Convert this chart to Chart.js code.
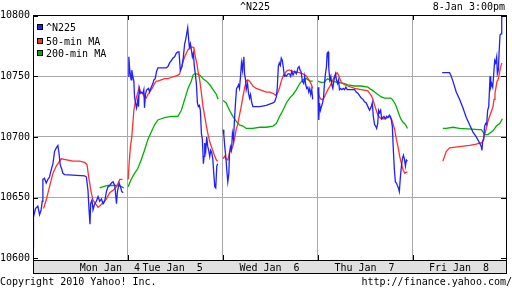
<!DOCTYPE html>
<html><head><meta charset="utf-8">
<script src="https://cdn.jsdelivr.net/npm/chart.js@4/dist/chart.umd.min.js"></script>
<style>html,body{margin:0;padding:0;background:#fff}canvas{display:block}</style>
</head><body>
<canvas id="c" width="512" height="288"></canvas>
<script>
// ---- text ----
const titleText = '^N225';
const stampText = '8-Jan 3:00pm';
const footerLeft = 'Copyright 2010 Yahoo! Inc.';
const footerRight = 'http://finance.yahoo.com/';
const seriesNames = ['^N225', '50-min MA', '200-min MA'];
const dayLabels = ['Mon Jan  4', 'Tue Jan  5', 'Wed Jan  6', 'Thu Jan  7', 'Fri Jan  8'];
const dayLabelPos = [81, 147, 249, 349, 448.5];
const dayBounds = [100, 200, 300, 400];
const yTicks = [10600, 10650, 10700, 10750, 10800];

// ---- data: time (day*100 + % of session), value ----
const nikkeiTime = [
  0, 0.5, 2.6, 5.1, 6.9, 8.6, 9.7, 10.4, 12.1, 13.9,
  15.7, 17.4, 19.2, 21.0, 22.7, 24.5, 26.2, 27.3, 28.7, 30.5,
  31.5, 33.3, 54.4, 56.2, 57.9, 59.0, 60.0, 60.7, 62.1, 63.2,
  65.0, 66.7, 68.5, 70.2, 72.0, 73.8, 75.5, 77.3, 79.0, 80.8,
  82.6, 84.3, 86.1, 87.9, 88.9, 90.7, 92.1, 93.5, 94.9,
  97,
  100.2, 100.9, 101.9, 103.3, 104.0, 105.1, 106.2, 106.9, 107.9, 109.0,
  110.4, 111.1, 111.8, 112.9, 113.9, 115.7, 116.7, 117.4, 118.5, 119.9,
  121.7, 122.7, 124.5, 126.2, 127.3, 128.7, 130.1, 131.5, 140.3, 142.1,
  143.8, 145.6, 147.4, 149.1, 150.9, 152.6, 153.7, 155.1, 156.9, 158.3,
  159.7, 160.7, 161.8, 162.9, 163.6, 164.6, 165.7, 166.7, 167.8, 168.8,
  169.9, 170.9, 172.0, 173.1, 174.1, 175.2, 176.2, 177.3, 178.3, 179.4,
  180.1, 180.8, 181.9, 182.9, 184.0, 185.0, 186.1, 187.1, 188.2, 189.3,
  190.3, 191.4, 192.4, 193.5, 194.5,
  197,
  200.2, 200.9, 201.9, 203.0, 204.0, 205.1, 206.2, 206.9, 207.9, 209.0,
  210.0, 211.1, 212.1, 213.2, 214.3, 215.3, 216.4, 217.4, 218.5, 219.5,
  220.6, 221.3, 222.0, 222.7, 223.8, 224.5, 225.9, 226.9, 228.0, 229.0,
  230.1, 231.5, 238.6, 245.6, 252.6, 254.4, 256.2, 257.2, 258.3, 259.3,
  260.4, 261.4, 262.5, 263.6, 264.6, 265.7, 266.7, 268.5, 270.2, 271.3,
  272.4, 273.8, 275.5, 277.3, 279.0, 280.1, 281.2, 282.2, 283.6, 285.0,
  286.1, 287.1, 288.2, 289.3, 290.3, 291.4, 292.4, 293.5, 294.5,
  297,
  300.2, 300.9, 301.6, 302.6, 303.7, 304.8, 305.8, 306.9, 307.9, 309.0,
  309.7, 310.7, 311.4, 312.5, 313.6, 314.6, 315.7, 316.7, 317.8, 318.5,
  319.5, 320.6, 321.7, 322.7, 323.8, 325.2, 326.6, 328.0, 329.4, 330.8,
  338.6, 340.3, 342.1, 343.8, 345.6, 347.4, 349.1, 350.9, 352.6, 354.4,
  356.2, 357.2, 358.3, 359.7, 360.7, 361.8, 362.9, 363.9, 365.0, 366.0,
  367.1, 369.5, 370.9, 372.4, 373.8, 375.2, 376.2, 377.3, 378.3, 379.4,
  380.5, 381.5, 382.6, 383.6, 384.7, 385.7, 386.8, 387.9, 388.9, 390.0,
  391.0, 392.1, 393.1, 394.2,
  397,
  430.8, 438.6, 440.3, 442.1, 445.6, 449.1, 452.6, 456.2, 459.7, 463.2,
  466.7, 470.2, 472.0, 472.7, 473.4, 474.5, 475.5, 476.6, 477.6, 478.7,
  479.8, 480.5, 481.2, 481.9, 482.9, 484.0, 485.0, 486.1, 487.1, 488.2,
  488.9, 490.0, 490.7, 491.7, 492.8, 493.5, 493.8
];
const nikkeiValue = [
  10608, 10634, 10641, 10643, 10636, 10640, 10647, 10665, 10666, 10662,
  10665, 10667, 10673, 10678, 10688, 10691, 10693, 10687, 10677, 10673,
  10670, 10669, 10668, 10667, 10656, 10640, 10628, 10645, 10648, 10640,
  10645, 10647, 10651, 10647, 10649, 10645, 10647, 10655, 10659, 10660,
  10662, 10663, 10660, 10645, 10655, 10662, 10659, 10655, 10654,
  null,
  10750, 10766, 10755, 10747, 10755, 10750, 10746, 10733, 10728, 10724,
  10731, 10725, 10740, 10736, 10737, 10736, 10739, 10724, 10736, 10739,
  10740, 10737, 10741, 10744, 10747, 10748, 10754, 10757, 10757, 10758,
  10761, 10763, 10765, 10766, 10769, 10770, 10770, 10755, 10758, 10766,
  10777, 10780, 10785, 10790, 10783, 10774, 10777, 10772, 10766, 10769,
  10758, 10752, 10744, 10728, 10725, 10726, 10722, 10703, 10698, 10678,
  10684, 10695, 10689, 10700, 10692, 10689, 10684, 10689, 10687, 10682,
  10670, 10659, 10658, 10676, 10678,
  null,
  10706, 10702, 10692, 10684, 10673, 10663, 10670, 10687, 10692, 10689,
  10703, 10698, 10714, 10728, 10740, 10741, 10743, 10740, 10750, 10761,
  10755, 10763, 10766, 10752, 10747, 10739, 10744, 10736, 10732, 10735,
  10729, 10725, 10725, 10726, 10728, 10729, 10733, 10741, 10758, 10761,
  10759, 10765, 10763, 10757, 10750, 10751, 10750, 10752, 10752, 10750,
  10754, 10751, 10754, 10752, 10757, 10758, 10755, 10754, 10746, 10744,
  10750, 10743, 10740, 10741, 10737, 10740, 10735, 10739, 10731,
  null,
  10741, 10714, 10728, 10722, 10725, 10728, 10732, 10744, 10752, 10758,
  10769, 10770, 10757, 10747, 10750, 10743, 10740, 10746, 10750, 10752,
  10747, 10744, 10747, 10739, 10740, 10739, 10740, 10739, 10741, 10739,
  10739, 10737, 10736, 10734, 10732, 10731, 10729, 10728, 10725, 10722,
  10725, 10728, 10717, 10710, 10709, 10707, 10711, 10722, 10720, 10722,
  10715, 10717, 10715, 10717, 10716, 10718, 10717, 10714, 10709, 10689,
  10673, 10663, 10662, 10660, 10658, 10655, 10667, 10676, 10682, 10685,
  10682, 10676, 10681, 10680,
  null,
  10753, 10753, 10750, 10746, 10737, 10731, 10724, 10716, 10710, 10704,
  10700, 10695, 10692, 10689, 10696, 10698, 10709, 10711, 10710, 10722,
  10725, 10737, 10750, 10741, 10744, 10741, 10751, 10763, 10761, 10766,
  10752, 10755, 10769, 10784, 10785, 10798, 10799
];

const ma50Time = [
  11.1, 13.9, 17.4, 21.0, 24.5, 28.0, 29.8, 42.1, 49.1, 54.4,
  56.9, 59.0, 61.4, 63.2, 66.7, 68.5, 70.2, 73.8, 77.3, 80.8,
  84.3, 87.9, 91.4, 94.2,
  97,
  100.2, 101.2, 102.6, 104.0, 105.1, 106.2, 107.6, 109.0, 110.4, 111.8,
  113.2, 114.6, 116.0, 117.4, 119.2, 121.0, 122.7, 124.5, 126.2, 128.0,
  129.8, 131.5, 135.0, 138.6, 142.1, 145.6, 149.1, 152.6, 154.4, 156.2,
  157.9, 159.7, 161.4, 163.2, 165.0, 166.7, 168.5, 169.5, 170.9, 172.4,
  173.8, 175.5, 177.3, 179.0, 180.8, 182.6, 184.3, 186.1, 187.9, 189.6,
  191.4, 193.1, 194.5,
  197,
  200.2, 201.6, 203.3, 205.1, 206.9, 208.6, 210.4, 212.1, 213.9, 215.7,
  217.4, 219.2, 221.0, 222.7, 224.5, 226.2, 228.0, 229.8, 231.5, 235.0,
  238.6, 242.1, 245.6, 249.1, 252.6, 254.4, 256.2, 257.9, 259.7, 261.4,
  263.2, 265.0, 266.7, 268.5, 270.2, 273.8, 280.8, 284.3, 286.1, 287.9,
  289.6, 291.4, 293.1, 294.5,
  297,
  300.2, 301.6, 303.3, 305.1, 306.9, 308.6, 310.4, 312.1, 313.9, 315.7,
  317.4, 319.2, 320.2, 321.7, 323.1, 324.5, 328.0, 331.5, 338.6, 345.6,
  352.6, 354.4, 356.2, 357.9, 359.7, 361.4, 363.2, 365.0, 366.7, 370.2,
  373.8, 375.5, 377.3, 379.0, 380.8, 382.6, 384.3, 386.1, 387.9, 389.6,
  391.4, 393.1, 394.2,
  397,
  431.5, 433.3, 435.0, 438.6, 449.1, 459.7, 466.7, 470.2, 472.0, 473.1,
  474.5, 475.9, 477.3, 479.0, 480.8, 482.6, 484.3, 485.4, 486.4, 487.5,
  488.6, 489.6, 490.7, 491.7, 492.8, 493.8
];
const ma50Value = [
  10641, 10648, 10659, 10670, 10676, 10680, 10682, 10680, 10680, 10679,
  10677, 10665, 10654, 10648, 10644, 10642, 10643, 10646, 10649, 10654,
  10656, 10659, 10665, 10665,
  null,
  10665, 10678, 10692, 10700, 10711, 10722, 10728, 10733, 10737, 10741,
  10737, 10736, 10735, 10733, 10732, 10735, 10737, 10739, 10741, 10744,
  10746, 10746, 10747, 10748, 10748, 10749, 10750, 10751, 10752, 10757,
  10762, 10766, 10769, 10772, 10773, 10774, 10774, 10773, 10766, 10761,
  10754, 10747, 10736, 10725, 10717, 10709, 10702, 10696, 10692, 10688,
  10684, 10681, 10680,
  null,
  10682, 10684, 10682, 10681, 10687, 10689, 10692, 10698, 10706, 10711,
  10718, 10725, 10733, 10740, 10746, 10747, 10746, 10744, 10742, 10740,
  10739, 10738, 10737, 10737, 10736, 10735, 10734, 10737, 10741, 10746,
  10750, 10752, 10754, 10755, 10755, 10754, 10753, 10752, 10751, 10750,
  10748, 10746, 10743, 10740,
  null,
  10737, 10733, 10731, 10731, 10733, 10736, 10739, 10741, 10744, 10747,
  10750, 10752, 10753, 10751, 10748, 10745, 10743, 10742, 10740, 10739,
  10738, 10736, 10734, 10731, 10726, 10722, 10718, 10716, 10715, 10715,
  10716, 10717, 10715, 10711, 10706, 10698, 10692, 10684, 10678, 10673,
  10670, 10671, 10671,
  null,
  10680, 10684, 10688, 10691, 10692, 10693, 10694, 10695, 10695, 10696,
  10699, 10703, 10707, 10713, 10717, 10721, 10725, 10731, 10736, 10741,
  10746, 10747, 10751, 10755, 10759, 10761
];

const ma200Time = [
  70.2, 73.8, 79.0, 84.3, 89.6, 93.1, 95.6,
  97.5,
  100.2, 103.3, 106.9, 110.4, 113.9, 117.4, 121.0, 124.5, 128.0, 131.5,
  135.0, 138.6, 145.6, 152.6, 156.2, 159.7, 163.2, 166.7, 168.5, 170.2,
  172.0, 175.5, 179.0, 182.6, 186.1, 189.6, 193.1, 194.9,
  197,
  200.2, 203.3, 206.9, 210.4, 213.9, 217.4, 221.0, 224.5, 231.5, 238.6,
  245.6, 252.6, 256.2, 259.7, 263.2, 266.7, 270.2, 273.8, 277.3, 280.8,
  284.3, 287.9, 291.4, 294.5,
  297,
  300.2, 303.3, 306.9, 308.6, 310.4, 312.1, 313.9, 321.0, 328.0, 331.5,
  338.6, 345.6, 352.6, 354.4, 356.2, 359.7, 363.2, 366.7, 370.2, 376.6,
  378.3, 380.8, 382.6, 384.3, 386.1, 387.9, 389.6, 391.4, 393.1, 394.2,
  397,
  431.5, 435.0, 442.1, 449.1, 470.2, 472.0, 473.8, 475.5, 479.0, 480.8,
  484.3, 487.9, 491.4, 494.2
];
const ma200Value = [
  10658, 10659, 10660, 10660, 10660, 10659, 10658,
  null,
  10659, 10665, 10670, 10674, 10681, 10689, 10698, 10704, 10710, 10714,
  10715, 10716, 10717, 10717, 10722, 10731, 10740, 10746, 10751, 10752,
  10752, 10751, 10748, 10746, 10743, 10739, 10735, 10731,
  null,
  10730, 10728, 10722, 10717, 10713, 10710, 10709, 10707, 10707, 10708,
  10708, 10709, 10711, 10717, 10722, 10728, 10732, 10735, 10739, 10744,
  10747, 10748, 10746, 10746,
  null,
  10746, 10745, 10745, 10747, 10748, 10747, 10746, 10745, 10744, 10743,
  10742, 10742, 10741, 10740, 10739, 10737, 10735, 10733, 10732, 10732,
  10731, 10728, 10725, 10721, 10717, 10714, 10712, 10711, 10709, 10707,
  null,
  10707, 10707, 10708, 10707, 10706, 10706, 10704, 10702, 10702, 10703,
  10705, 10709, 10711, 10715
];

const seriesColors = ['#2020ff', '#ff3030', '#00b000'];
const FONT = "'DejaVu Sans Mono', monospace";

function pts(ts, vs) { return ts.map((t, i) => ({ x: t, y: vs[i] })); }

const decor = {
  id: 'decor',
  beforeDraw(chart) {
    const { ctx, chartArea: a } = chart;
    ctx.save();
    ctx.fillStyle = '#e0e0e0';
    ctx.fillRect(a.left, a.bottom, a.right - a.left, 13);
    ctx.restore();
  },
  afterDraw(chart) {
    const { ctx, chartArea: a, scales } = chart;
    const xs = scales.x, ys = scales.y;
    ctx.save();
    ctx.strokeStyle = '#000';
    ctx.lineWidth = 1;
    // frame
    ctx.strokeRect(a.left + 0.5, a.top + 0.5, a.right - a.left, a.bottom - a.top);
    // band
    ctx.strokeRect(a.left + 0.5, a.bottom + 0.5, a.right - a.left, 13);
    // inward ticks
    ctx.beginPath();
    dayBounds.forEach(v => {
      const px = Math.round(xs.getPixelForValue(v)) + 0.5;
      ctx.moveTo(px, a.top); ctx.lineTo(px, a.top + 5);
      ctx.moveTo(px, a.bottom); ctx.lineTo(px, a.bottom - 5);
    });
    yTicks.forEach(v => {
      const py = Math.round(ys.getPixelForValue(v)) + 0.5;
      ctx.moveTo(a.left, py); ctx.lineTo(a.left + 5, py);
      ctx.moveTo(a.right, py); ctx.lineTo(a.right - 5, py);
    });
    ctx.stroke();
    // legend
    ctx.font = '10px ' + FONT;
    ctx.textBaseline = 'middle';
    ctx.textAlign = 'left';
    const rows = [24, 38, 50];
    seriesNames.forEach((n, i) => {
      ctx.fillStyle = seriesColors[i];
      ctx.fillRect(37, rows[i], 6, 6);
      ctx.strokeStyle = '#000';
      ctx.strokeRect(37.5, rows[i] + 0.5, 5, 5);
      ctx.fillStyle = '#000';
      ctx.fillText(n, 46, rows[i] + 4);
    });
    // title & footer
    ctx.fillStyle = '#000';
    ctx.textAlign = 'center';
    ctx.fillText(titleText, 255, 7);
    ctx.textAlign = 'right';
    ctx.fillText(stampText, 505, 7);
    ctx.textAlign = 'left';
    ctx.fillText(footerLeft, 0, 282);
    ctx.textAlign = 'right';
    ctx.fillText(footerRight, 512, 282);
    ctx.restore();
  }
};

new Chart(document.getElementById('c'), {
  type: 'line',
  data: {
    datasets: [
      { label: seriesNames[0], data: pts(nikkeiTime, nikkeiValue), borderColor: seriesColors[0] },
      { label: seriesNames[1], data: pts(ma50Time, ma50Value), borderColor: seriesColors[1] },
      { label: seriesNames[2], data: pts(ma200Time, ma200Value), borderColor: seriesColors[2] }
    ]
  },
  options: {
    responsive: false,
    animation: false,
    devicePixelRatio: 1,
    spanGaps: false,
    elements: { point: { radius: 0 }, line: { borderWidth: 1.3, tension: 0 } },
    layout: { padding: { top: 15, right: 6, bottom: 15, left: 0 } },
    plugins: { legend: { display: false }, tooltip: { enabled: false } },
    font: { family: FONT, size: 10 },
    scales: {
      x: {
        type: 'linear', min: 0, max: 498,
        border: { display: false },
        afterBuildTicks(s) { s.ticks = dayLabelPos.concat(dayBounds).sort((p, q) => p - q).map(v => ({ value: v })); },
        afterFit(s) { s.height = 13; },
        grid: {
          drawTicks: false,
          color: c => (c.tick && dayBounds.includes(c.tick.value)) ? '#a8a8a8' : 'rgba(0,0,0,0)'
        },
        ticks: {
          autoSkip: false, maxRotation: 0, padding: 2, color: '#000',
          font: { family: FONT, size: 10 },
          callback: v => { const i = dayLabelPos.indexOf(v); return i >= 0 ? dayLabels[i] : ''; }
        }
      },
      y: {
        type: 'linear', min: 10598.6, max: 10800.5,
        border: { display: false },
        afterBuildTicks(s) { s.ticks = yTicks.map(v => ({ value: v })); },
        afterFit(s) { s.width = 33; },
        grid: {
          drawTicks: false,
          color: c => (c.tick && (c.tick.value === 10600 || c.tick.value === 10800)) ? 'rgba(0,0,0,0)' : '#a8a8a8'
        },
        ticks: { padding: 3, color: '#000', font: { family: FONT, size: 10 }, callback: v => String(v) }
      }
    }
  },
  plugins: [decor]
});
</script>
</body></html>
